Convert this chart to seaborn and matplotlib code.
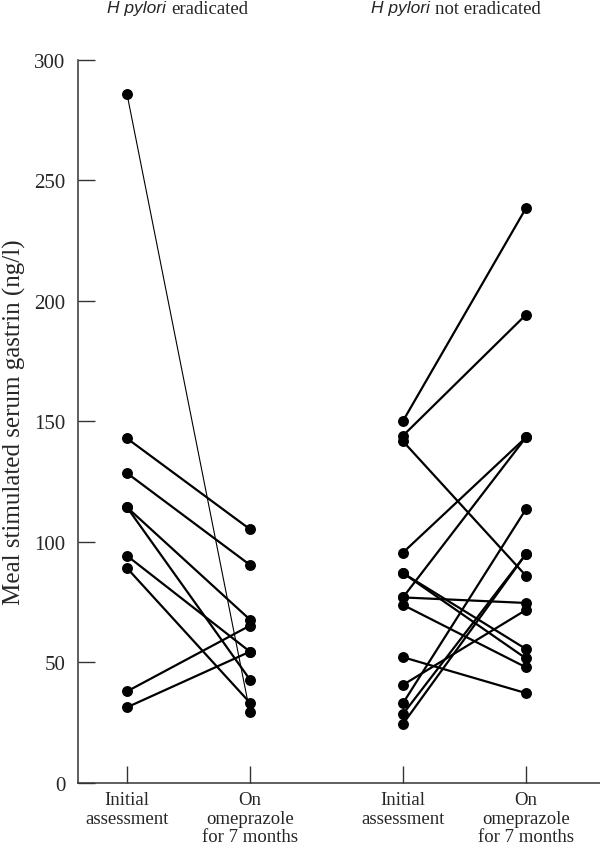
import numpy as np
import pandas as pd
import seaborn as sns
import matplotlib
matplotlib.use("Agg")
import matplotlib.pyplot as plt

# x positions of the four time points (left group, right group)
X_POS = [0.0, 1.0, 2.244, 3.244]
TICK_LABELS = ["Initial\nassessment", "On\nomeprazole\nfor 7 months",
               "Initial\nassessment", "On\nomeprazole\nfor 7 months"]

# H pylori eradicated (first patient drawn with a thin line)
left_initial = [286, 143, 128.6, 114.4, 114.4, 94.3, 89.2, 38, 31.4]
left_final = [29.3, 105.3, 90.5, 67.8, 42.9, 54.5, 33.3, 65.3, 54.5]

# H pylori not eradicated
right_initial = [150.2, 144.1, 141.8, 95.6, 77.0, 77.0, 87.1, 87.1, 73.9,
                 52.2, 40.7, 33.1, 28.6, 24.5]
right_final = [238.5, 194.3, 86.0, 143.4, 143.4, 74.7, 55.6, 51.7, 48.0,
               37.3, 71.8, 113.6, 95.0, 95.0]

rows = []
for i, (a, b) in enumerate(zip(left_initial, left_final)):
    rows.append(dict(patient=f"L{i}", x=X_POS[0], gastrin=a, thin=(i == 0)))
    rows.append(dict(patient=f"L{i}", x=X_POS[1], gastrin=b, thin=(i == 0)))
for i, (a, b) in enumerate(zip(right_initial, right_final)):
    rows.append(dict(patient=f"R{i}", x=X_POS[2], gastrin=a, thin=False))
    rows.append(dict(patient=f"R{i}", x=X_POS[3], gastrin=b, thin=False))
df = pd.DataFrame(rows)

sns.set_style("ticks")
plt.rcParams["font.family"] = ["Liberation Serif", "DejaVu Serif"]

fig = plt.figure(figsize=(6, 8.53), dpi=100)
ax = fig.add_axes([0.13, 0.0809, 0.87, 0.8476])

sns.lineplot(data=df[~df.thin], x="x", y="gastrin", units="patient",
             estimator=None, color="black", lw=1.6, ax=ax, sort=False)
sns.lineplot(data=df[df.thin], x="x", y="gastrin", units="patient",
             estimator=None, color="black", lw=0.8, ax=ax, sort=False)
sns.scatterplot(data=df, x="x", y="gastrin", color="black", s=62,
                edgecolor="black", linewidth=0, ax=ax, zorder=3)

ax.set_xlim(-0.398, 3.846)
ax.set_ylim(0, 300)
ax.set_yticks(np.arange(0, 301, 50))
ax.set_xticks(X_POS)
ax.set_xticklabels(TICK_LABELS, fontsize=13.5, linespacing=1.12)
ax.tick_params(axis="y", labelsize=15, direction="in", length=12, width=1,
               color="#333333", pad=9)
ax.tick_params(axis="x", direction="in", length=12, width=1,
               color="#333333", pad=6)
ax.set_xlabel("")
ax.set_ylabel("Meal stimulated serum gastrin (ng/l)", fontsize=18)
ax.yaxis.set_label_coords(-0.1, 0.5)

sns.despine(ax=ax)
for side in ["left", "bottom"]:
    ax.spines[side].set_linewidth(1.1)
    ax.spines[side].set_color("#333333")

# group headings: italic sans for the organism, serif for the rest
fig.text(166 / 600, 1 - 9 / 853, "H pylori", ha="right", va="center",
         fontsize=12.5, style="italic", family="Liberation Sans")
fig.text(171 / 600, 1 - 9 / 853, "eradicated", ha="left", va="center",
         fontsize=13.5)
fig.text(430 / 600, 1 - 9 / 853, "H pylori", ha="right", va="center",
         fontsize=12.5, style="italic", family="Liberation Sans")
fig.text(435 / 600, 1 - 9 / 853, "not eradicated", ha="left", va="center",
         fontsize=13.5)

fig.savefig("out.png", dpi=100)
